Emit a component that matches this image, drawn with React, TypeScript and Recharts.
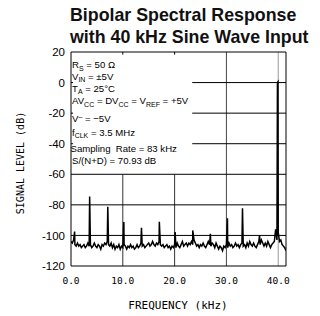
import React from "react";
import { LineChart, Line, XAxis, YAxis, ReferenceLine } from "recharts";

// noise floor, one value every 0.25 kHz from 0 to 41.5 kHz
const floorStep = 0.25;
const noiseFloor = [
  -104, -105, -103, -106, -107, -105, -107, -106, -108, -107,
  -106, -108, -107, -105, -107, -106, -108, -107, -105, -107,
  -108, -106, -107, -109, -106, -107, -105, -106, -104, -106,
  -107, -105, -108, -106, -109, -107, -108, -106, -109, -107,
  -108, -106, -107, -109, -107, -108, -106, -108, -107, -109,
  -108, -106, -108, -107, -105, -107, -106, -108, -107, -106,
  -105, -107, -106, -104, -106, -107, -105, -106, -104, -106,
  -107, -106, -108, -107, -106, -108, -107, -109, -107, -108,
  -106, -108, -105, -107, -108, -106, -104, -107, -106, -105,
  -107, -105, -106, -104, -106, -103, -105, -107, -106, -108,
  -106, -107, -105, -107, -108, -106, -104, -106, -107, -105,
  -106, -108, -105, -107, -109, -107, -108, -110, -107, -108,
  -106, -108, -105, -107, -106, -108, -107, -105, -107, -106,
  -108, -106, -105, -107, -106, -108, -105, -107, -104, -106,
  -107, -105, -107, -108, -106, -104, -106, -103, -105, -107,
  -105, -107, -104, -106, -108, -106, -105, -104, -96, -103,
  -98, -104, -103, -106, -107, -108, -110,
];

// spurs and the fundamental (kHz, dB)
const spurFreqs = [0.7, 3.6, 7.1, 10.2, 13.6, 17.05, 20.1, 23.5, 26.9, 30.2, 33.1, 36.4, 39.85, 39.95];
const spurLevels = [-97.5, -74.5, -81.3, -91.3, -95, -91, -97.7, -96.7, -99, -88.7, -82.3, -100, 0, 0.5];

const xTicks = [0, 10, 20, 30, 40];
const yTicks = [20, 0, -20, -40, -60, -80, -100, -120];

const data = [
  ...noiseFloor.map((db, i) => ({ f: i * floorStep, db })),
  ...spurFreqs.map((f, i) => ({ f, db: spurLevels[i] })),
].sort((a, b) => a.f - b.f);

const notes: [string, string, string][] = [
  ["R", "S", " = 50 Ω"],
  ["V", "IN", " = ±5V"],
  ["T", "A", " = 25°C"],
];

export default function App() {
  const font = "'Liberation Sans', Arial, sans-serif";
  const mono = "'DejaVu Sans Mono', monospace";
  const sub = (t: string) => (
    <tspan dy={2.5} fontSize={7}>
      {t}
    </tspan>
  );
  return (
    <div style={{ position: "absolute", left: 0, top: 0, width: 320, height: 316, background: "#fff" }}>
      <LineChart width={320} height={316} data={data} margin={{ top: 52, right: 34, bottom: 20, left: 0 }}>
        <XAxis
          dataKey="f"
          type="number"
          domain={[0, 41.5]}
          ticks={xTicks}
          tickFormatter={(v) => v.toFixed(1)}
          tick={{ fill: "#000", fontSize: 9.5, fontFamily: mono }}
          axisLine={false}
          tickLine={false}
          tickSize={6}
          tickMargin={5}
          height={30}
          allowDataOverflow
        />
        <YAxis
          type="number"
          domain={[-120, 20]}
          ticks={yTicks}
          tick={{ fill: "#000", fontSize: 11.5, fontFamily: font }}
          axisLine={false}
          tickLine={false}
          tickSize={3}
          tickMargin={3}
          width={71}
          allowDataOverflow
        />
        {/* grid, partly hidden behind the conditions box */}
        <ReferenceLine segment={[{ x: 10, y: -120 }, { x: 10, y: -60 }]} stroke="#333" />
        <ReferenceLine segment={[{ x: 20, y: -120 }, { x: 20, y: -60 }]} stroke="#333" />
        <ReferenceLine x={30} stroke="#444" />
        <ReferenceLine x={40} stroke="#999" />
        <ReferenceLine segment={[{ x: 23.4, y: 0 }, { x: 41.5, y: 0 }]} stroke="#000" />
        <ReferenceLine segment={[{ x: 23.4, y: -20 }, { x: 41.5, y: -20 }]} stroke="#000" />
        <ReferenceLine segment={[{ x: 23.4, y: -40 }, { x: 41.5, y: -40 }]} stroke="#000" />
        <ReferenceLine y={-60} stroke="#000" />
        <ReferenceLine y={-80} stroke="#000" />
        <ReferenceLine y={-100} stroke="#000" />
        {/* small inner ticks */}
        <ReferenceLine segment={[{ x: 10, y: 20 }, { x: 10, y: 18.3 }]} stroke="#000" />
        <ReferenceLine segment={[{ x: 20, y: 20 }, { x: 20, y: 18.3 }]} stroke="#000" />
        <ReferenceLine segment={[{ x: 0, y: 0 }, { x: 0.4, y: 0 }]} stroke="#000" />
        <ReferenceLine segment={[{ x: 0, y: -20 }, { x: 0.4, y: -20 }]} stroke="#000" />
        <ReferenceLine segment={[{ x: 0, y: -40 }, { x: 0.4, y: -40 }]} stroke="#000" />
        {/* frame */}
        <ReferenceLine x={0} stroke="#000" />
        <ReferenceLine x={41.5} stroke="#000" />
        <ReferenceLine y={20} stroke="#000" />
        <ReferenceLine y={-120} stroke="#000" />
        <Line
          type="linear"
          dataKey="db"
          stroke="#000"
          strokeWidth={1.5}
          dot={false}
          isAnimationActive={false}
        />
      </LineChart>
      <svg
        width={320}
        height={316}
        style={{ position: "absolute", left: 0, top: 0, pointerEvents: "none" }}
      >
        <text x={70} y={21} fontFamily={font} fontWeight="bold" fontSize={17.8} fill="#111">
          Bipolar Spectral Response
        </text>
        <text x={70} y={43} fontFamily={font} fontWeight="bold" fontSize={17.8} fill="#111">
          with 40 kHz Sine Wave Input
        </text>
        <g fontFamily={font} fontSize={9.6} fill="#000">
          {notes.map(([a, b, c], i) => (
            <text key={a} x={72} y={[68, 79.5, 91.5][i]}>
              {a}
              {sub(b)}
              <tspan dy={-2.5}>{c}</tspan>
            </text>
          ))}
          <text x={72} y={104}>
            AV{sub("CC")}
            <tspan dy={-2.5}> = DV</tspan>
            {sub("CC")}
            <tspan dy={-2.5}> = V</tspan>
            {sub("REF")}
            <tspan dy={-2.5}> = +5V</tspan>
          </text>
          <text x={72} y={122}>
            V<tspan dy={-3} fontSize={7}>–</tspan>
            <tspan dy={3}> = −5V</tspan>
          </text>
          <text x={72} y={135.5}>
            f{sub("CLK")}
            <tspan dy={-2.5}> = 3.5 MHz</tspan>
          </text>
          <text x={70.5} y={151.5} style={{ whiteSpace: "pre" }}>
            Sampling  Rate = 83 kHz
          </text>
          <text x={72} y={164}>
            S/(N+D) = 70.93 dB
          </text>
        </g>
        <text
          x={20}
          y={163}
          transform="rotate(-90 20 163)"
          textAnchor="middle"
          dominantBaseline="central"
          fontFamily={mono}
          fontSize={10}
          fill="#000"
        >
          SIGNAL LEVEL (dB)
        </text>
        <text x={178} y={309} textAnchor="middle" fontFamily={mono} fontSize={11} fill="#000">
          FREQUENCY (kHz)
        </text>
      </svg>
    </div>
  );
}
